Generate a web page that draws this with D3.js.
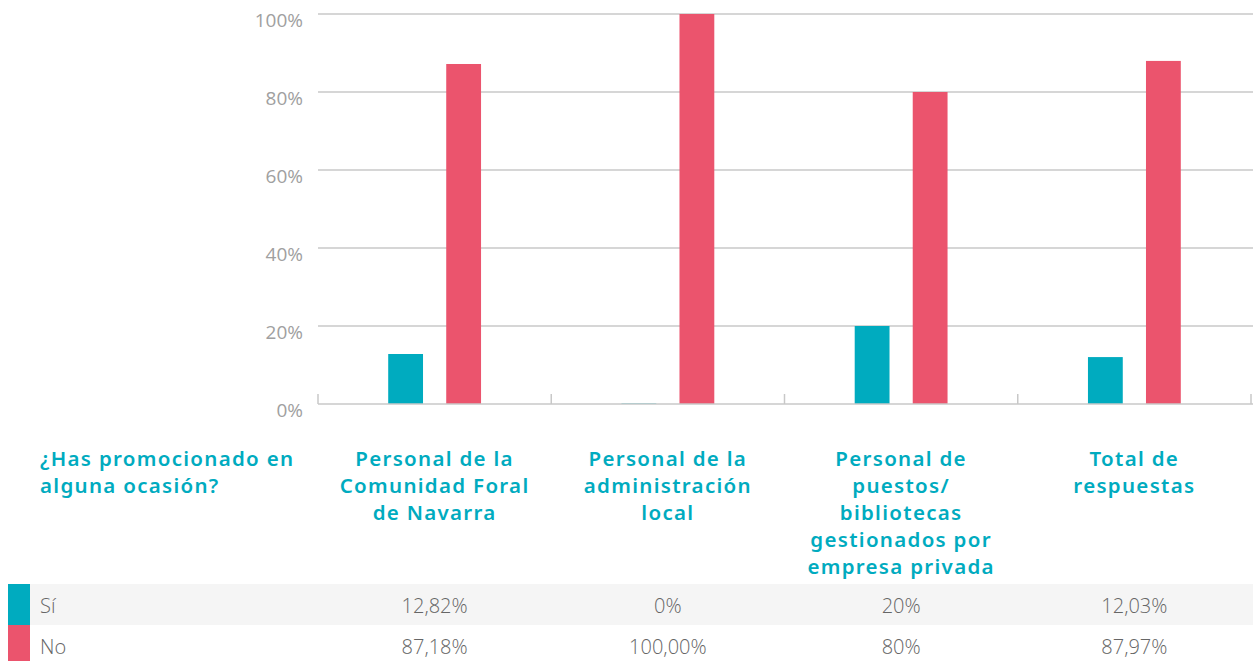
<!DOCTYPE html>
<html>
<head>
<meta charset="utf-8">
<script src="https://cdn.jsdelivr.net/npm/d3@7"></script>
<style>
  body { margin: 0; background: #fff; }
  svg { display: block; }
</style>
</head>
<body>
<div id="chart"></div>
<script>
// Data
const categories = [
  ["Personal de la", "Comunidad Foral", "de Navarra"],
  ["Personal de la", "administración", "local"],
  ["Personal de", "puestos/", "bibliotecas", "gestionados por", "empresa privada"],
  ["Total de", "respuestas"]
];
const seriesNames = ["Sí", "No"];
const siValues = [12.82, 0, 20, 12.03];
const noValues = [87.18, 100, 80, 87.97];
const siLabels = ["12,82%", "0%", "20%", "12,03%"];
const noLabels = ["87,18%", "100,00%", "80%", "87,97%"];
const yTicks = [0, 20, 40, 60, 80, 100];
const question = ["¿Has promocionado en", "alguna ocasión?"];

const colors = { "Sí": "#00abbf", "No": "#eb546d" };

const width = 1253, height = 661;
const svg = d3.select("#chart").append("svg")
  .attr("width", width).attr("height", height);

// Scales
const x0 = d3.scaleBand().domain(d3.range(categories.length)).range([318, 1251]);
const x1 = d3.scaleBand().domain(seriesNames)
  .range([0, x0.bandwidth()]).paddingInner(0.4).paddingOuter(1.21);
const y = d3.scaleLinear().domain([0, 100]).range([404, 14]);

// Grid lines and y labels
svg.append("g").selectAll("line")
  .data(yTicks.filter(d => d > 0))
  .join("line")
  .attr("x1", 318).attr("x2", width)
  .attr("y1", d => y(d)).attr("y2", d => y(d))
  .attr("stroke", "#c8c8c8").attr("stroke-width", 1.5);

svg.append("g").selectAll("text")
  .data(yTicks)
  .join("text")
  .attr("x", 303).attr("y", d => y(d) + 6)
  .attr("dy", "0.35em")
  .attr("text-anchor", "end")
  .attr("fill", "#a0a0a0")
  .style("font", "400 19px 'Open Sans', sans-serif")
  .text(d => d + "%");

// Bars
const rows = categories.map((c, i) => ({ i, "Sí": siValues[i], "No": noValues[i] }));
const groups = svg.append("g").selectAll("g")
  .data(rows)
  .join("g")
  .attr("transform", d => `translate(${x0(d.i)},0)`);

groups.selectAll("rect")
  .data(d => seriesNames.map(k => ({ k, v: d[k] })))
  .join("rect")
  .attr("x", d => x1(d.k))
  .attr("width", x1.bandwidth())
  .attr("y", d => Math.min(y(d.v), y(0) - 1))
  .attr("height", d => Math.max(y(0) - y(d.v), 1))
  .attr("fill", d => colors[d.k])
  .attr("opacity", d => d.v === 0 ? 0.5 : 1);

// Baseline and ticks
svg.append("line")
  .attr("x1", 318).attr("x2", width)
  .attr("y1", y(0)).attr("y2", y(0))
  .attr("stroke", "#c8c8c8").attr("stroke-width", 1.5);

svg.append("g").selectAll("line")
  .data(d3.range(categories.length + 1))
  .join("line")
  .attr("x1", d => d < categories.length ? x0(d) : 1251)
  .attr("x2", d => d < categories.length ? x0(d) : 1251)
  .attr("y1", y(0) - 10).attr("y2", y(0))
  .attr("stroke", "#c8c8c8").attr("stroke-width", 1.5);

// Header labels
const headerFont = "600 20.5px 'Noto Sans', 'Open Sans', sans-serif";
const headerSpacing = "1.3px";
const lineH = 27;

svg.append("text")
  .attr("x", 40).attr("y", 466)
  .attr("fill", "#00abbf")
  .style("font", headerFont)
  .style("letter-spacing", headerSpacing)
  .selectAll("tspan")
  .data(question)
  .join("tspan")
  .attr("x", 40)
  .attr("dy", (d, i) => i ? lineH : 0)
  .text(d => d);

svg.append("g").selectAll("text")
  .data(categories)
  .join("text")
  .attr("y", 466)
  .attr("text-anchor", "middle")
  .attr("fill", "#00abbf")
  .style("font", headerFont)
  .style("letter-spacing", headerSpacing)
  .each(function (d, i) {
    d3.select(this).selectAll("tspan")
      .data(d)
      .join("tspan")
      .attr("x", x0(i) + x0.bandwidth() / 2)
      .attr("dy", (t, j) => j ? lineH : 0)
      .text(t => t);
  });

// Table rows
const tableRows = [
  { name: "Sí", labels: siLabels, y0: 584, h: 41, bg: "#f5f5f5" },
  { name: "No", labels: noLabels, y0: 625, h: 36, bg: "#ffffff" }
];

const tr = svg.append("g").selectAll("g")
  .data(tableRows)
  .join("g");

tr.append("rect")
  .attr("x", 8).attr("y", d => d.y0)
  .attr("width", width - 8).attr("height", d => d.h)
  .attr("fill", d => d.bg);

tr.append("rect")
  .attr("x", 8).attr("y", d => d.y0)
  .attr("width", 22).attr("height", d => d.h)
  .attr("fill", d => colors[d.name]);

const cellFont = "300 20px 'Open Sans', sans-serif";

tr.append("text")
  .attr("x", 40).attr("y", d => d.y0 + 22)
  .attr("dy", "0.35em")
  .attr("fill", "#666")
  .style("font", cellFont)
  .text(d => d.name);

tr.each(function (d) {
  d3.select(this).selectAll("text.val")
    .data(d.labels)
    .join("text")
    .attr("class", "val")
    .attr("x", (t, i) => x0(i) + x0.bandwidth() / 2)
    .attr("y", d.y0 + 22)
    .attr("dy", "0.35em")
    .attr("text-anchor", "middle")
    .attr("fill", "#666")
    .style("font", cellFont)
    .text(t => t);
});
</script>
</body>
</html>
